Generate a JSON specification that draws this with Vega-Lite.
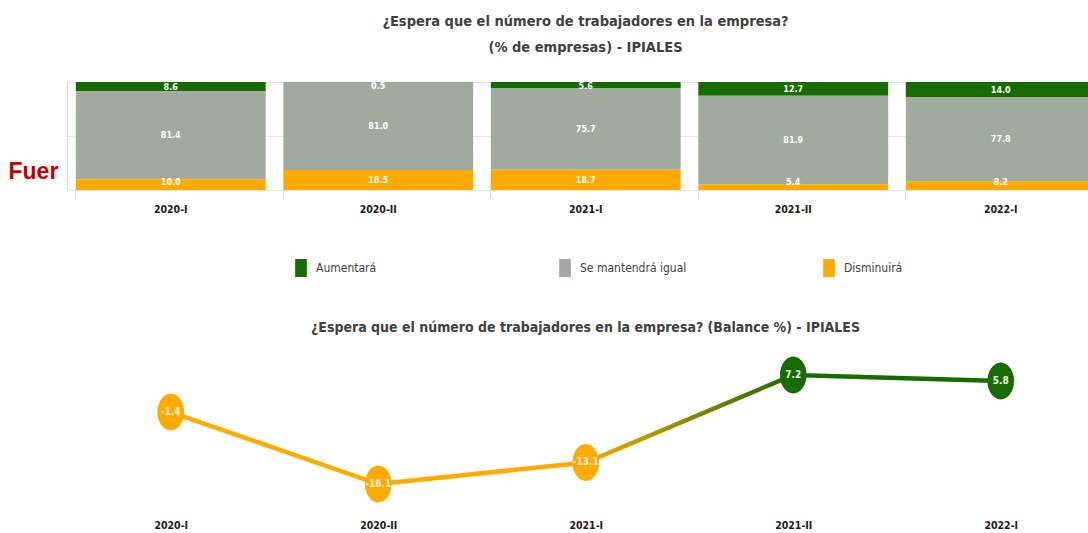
{
  "$schema": "https://vega.github.io/schema/vega-lite/v6.json",
  "padding": {"left": 8, "top": 13, "right": 0, "bottom": 0},
  "background": "white",
  "bounds": "flush",
  "spacing": 168.6,
  "config": {
    "view": {"stroke": null},
    "font": "DejaVu Sans Condensed, sans-serif",
    "locale": {"number": {"decimal": ".", "thousands": ",", "grouping": [3], "currency": ["$", ""], "minus": "-"}}
  },
  "datasets": {
    "encuesta": [
      {"periodo": "2020-I", "categoria": "Aumentará", "pct": 8.6},
      {"periodo": "2020-I", "categoria": "Se mantendrá igual", "pct": 81.4},
      {"periodo": "2020-I", "categoria": "Disminuirá", "pct": 10.0},
      {"periodo": "2020-II", "categoria": "Aumentará", "pct": 0.5},
      {"periodo": "2020-II", "categoria": "Se mantendrá igual", "pct": 81.0},
      {"periodo": "2020-II", "categoria": "Disminuirá", "pct": 18.5},
      {"periodo": "2021-I", "categoria": "Aumentará", "pct": 5.6},
      {"periodo": "2021-I", "categoria": "Se mantendrá igual", "pct": 75.7},
      {"periodo": "2021-I", "categoria": "Disminuirá", "pct": 18.7},
      {"periodo": "2021-II", "categoria": "Aumentará", "pct": 12.7},
      {"periodo": "2021-II", "categoria": "Se mantendrá igual", "pct": 81.9},
      {"periodo": "2021-II", "categoria": "Disminuirá", "pct": 5.4},
      {"periodo": "2022-I", "categoria": "Aumentará", "pct": 14.0},
      {"periodo": "2022-I", "categoria": "Se mantendrá igual", "pct": 77.8},
      {"periodo": "2022-I", "categoria": "Disminuirá", "pct": 8.2}
    ],
    "balance": [
      {"periodo": "2020-I", "balance": -1.4},
      {"periodo": "2020-II", "balance": -18.1},
      {"periodo": "2021-I", "balance": -13.1},
      {"periodo": "2021-II", "balance": 7.2},
      {"periodo": "2022-I", "balance": 5.8}
    ]
  },
  "vconcat": [
    {
      "width": 1021,
      "height": 108,
      "title": {
        "text": ["¿Espera que el número de trabajadores en la empresa?", "(% de empresas) - IPIALES"],
        "fontSize": 14.5, "fontWeight": "bold", "color": "#404040", "lineHeight": 26,
        "offset": 27, "dx": 8, "anchor": "middle"
      },
      "data": {"name": "encuesta"},
      "transform": [
        {"calculate": "indexof(['Disminuirá','Se mantendrá igual','Aumentará'], datum.categoria)", "as": "orden"},
        {"stack": "pct", "groupby": ["periodo"], "sort": [{"field": "orden", "order": "ascending"}], "as": ["y0", "y1"]},
        {"calculate": "min(max((datum.y0 + datum.y1) / 2, 7), 96)", "as": "ymid"}
      ],
      "encoding": {
        "x": {
          "field": "periodo", "type": "nominal",
          "sort": ["2020-I", "2020-II", "2021-I", "2021-II", "2022-I"],
          "scale": {"type": "band", "range": [0, 1037.5], "paddingInner": 0.085, "paddingOuter": 0.0425},
          "axis": {
            "title": null, "domain": false, "ticks": true, "bandPosition": 0, "tickSize": 8,
            "tickColor": "#D9D9D9", "labelFontWeight": "bold", "labelFontSize": 10.5,
            "labelColor": "#1A1A1A", "labelPadding": 6, "labelAngle": 0, "grid": false
          }
        }
      },
      "layer": [
        {
          "mark": {"type": "bar", "clip": true},
          "encoding": {
            "y": {
              "field": "y1", "type": "quantitative", "scale": {"domain": [0, 100]},
              "axis": {
                "values": [0, 50, 100], "labels": false, "ticks": false, "grid": true,
                "gridColor": "#E6E6E6", "domainColor": "#D9D9D9",
                "title": "Fuer", "titleColor": "#C00000", "titleFontSize": 23,
                "titleFont": "Liberation Sans", "titleFontWeight": "bold", "titleAngle": 0,
                "titleAlign": "left", "titleBaseline": "middle", "titleX": -59, "titleY": 89
              }
            },
            "y2": {"field": "y0"},
            "color": {
              "field": "categoria", "type": "nominal",
              "scale": {"domain": ["Aumentará", "Se mantendrá igual", "Disminuirá"], "range": ["#176B00", "#A0AA9E", "#FFAA00"]},
              "legend": {
                "title": null, "orient": "none", "direction": "horizontal", "columns": 3,
                "legendX": 225, "legendY": 177, "gridAlign": "all", "columnPadding": 133,
                "symbolType": "M-0.65,-1H0.65V1H-0.65Z", "symbolSize": 324, "symbolStrokeWidth": 0,
                "labelFontSize": 12, "labelColor": "#404040", "labelOffset": 6
              }
            }
          }
        },
        {
          "mark": {"type": "text", "fontWeight": "bold", "fontSize": 9, "color": "white", "baseline": "middle"},
          "encoding": {
            "y": {"field": "ymid", "type": "quantitative"},
            "text": {"field": "pct", "type": "quantitative", "format": ".1f"}
          }
        }
      ]
    },
    {
      "width": 1021,
      "height": 155.2,
      "title": {
        "text": "¿Espera que el número de trabajadores en la empresa?  (Balance %) - IPIALES",
        "fontSize": 14, "fontWeight": "bold", "color": "#404040",
        "offset": 21, "dx": 8, "anchor": "middle"
      },
      "data": {"name": "balance"},
      "encoding": {
        "x": {
          "field": "periodo", "type": "nominal",
          "sort": ["2020-I", "2020-II", "2021-I", "2021-II", "2022-I"],
          "scale": {"type": "point", "range": [0, 1037.5], "padding": 0.5},
          "axis": {
            "title": null, "domain": false, "ticks": false, "labelAngle": 0,
            "labelFontWeight": "bold", "labelFontSize": 10.5, "labelColor": "#1A1A1A", "labelPadding": 7
          }
        },
        "y": {"field": "balance", "type": "quantitative", "scale": {"domain": [-25, 11]}, "axis": null}
      },
      "layer": [
        {
          "mark": {
            "type": "line", "strokeWidth": 4.5,
            "stroke": {
              "gradient": "linear", "x1": 0, "y1": 0, "x2": 1, "y2": 0,
              "stops": [
                {"offset": 0, "color": "#FFAA00"},
                {"offset": 0.5, "color": "#FFAA00"},
                {"offset": 0.75, "color": "#176B00"},
                {"offset": 1, "color": "#176B00"}
              ]
            }
          }
        },
        {
          "mark": {
            "type": "point", "filled": true, "opacity": 1, "size": 1369,
            "shape": "M-0.72,0A0.72,1 0 1,0 0.72,0A0.72,1 0 1,0 -0.72,0Z"
          },
          "encoding": {
            "color": {"condition": {"test": "datum.balance < 0", "value": "#FFAA00"}, "value": "#176B00"}
          }
        },
        {
          "mark": {"type": "text", "fontWeight": "bold", "fontSize": 10, "color": "#F4F0E6", "baseline": "middle"},
          "encoding": {"text": {"field": "balance", "type": "quantitative", "format": ".1f"}}
        }
      ]
    }
  ]
}
